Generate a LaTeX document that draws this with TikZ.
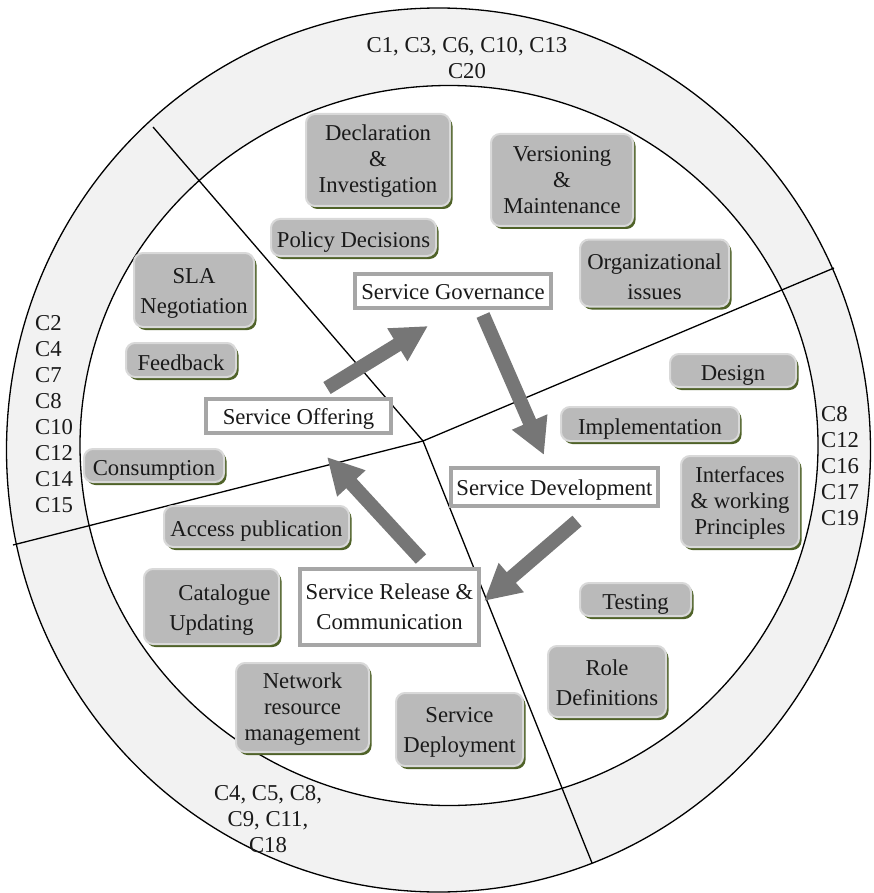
\documentclass[tikz,border=0pt]{standalone}
\usepackage{fontspec}
\setmainfont{Liberation Serif}
\usetikzlibrary{arrows.meta}

\definecolor{ringfill}{HTML}{F2F2F2}
\definecolor{boxfill}{HTML}{BABABA}
\definecolor{boxrim}{HTML}{D9D9D9}
\definecolor{boxshade}{HTML}{4F6228}
\definecolor{stageframe}{HTML}{A6A6A6}
\definecolor{flow}{HTML}{767676}
\definecolor{ink}{HTML}{1A1A1A}

% invisible strut that lowers a block of centred lines inside its box
\newcommand{\sinkby}[1]{\rule{0pt}{\dimexpr 15.5pt+2\dimexpr #1\relax\relax}}

\begin{document}
\begin{tikzpicture}[x=1pt,y=-1pt,
  every node/.style={font=\fontsize{22.7}{26}\selectfont, text=ink, inner sep=0pt, align=center},
  divider/.style={line width=1.3pt, draw=black},
  topic/.style={draw=boxrim, line width=2pt, fill=boxfill, rounded corners=9pt,
    preaction={fill=boxshade, transform canvas={xshift=2.5pt, yshift=-3pt}}},
  oneline/.style={text height=20pt, text depth=0pt},
  stage/.style={draw=stageframe, line width=4pt, fill=white},
  stageline/.style={text height=16pt, text depth=0pt},
  flowarrow/.style={draw=flow, line width=14pt, -{Triangle[length=36pt, width=36pt]}},
  codes/.style={align=left}
]
\useasboundingbox (0,0) rectangle (874,893);

% outer ring
\fill[ringfill, even odd rule]
  (438.5,450) ellipse [x radius=432pt, y radius=442pt]
  (449,445.5) ellipse [x radius=369pt, y radius=360pt];
\draw[divider] (438.5,450) ellipse [x radius=432pt, y radius=442pt];
\draw[divider] (449,445.5) ellipse [x radius=369pt, y radius=360pt];

% sector dividers
\coordinate (hub) at (423,441);
\coordinate (nw) at (153,127);
\coordinate (ne) at (834,268);
\coordinate (sw) at (13,545);
\coordinate (se) at (592,863);
\draw[divider] (hub) -- (nw);
\draw[divider] (hub) -- (ne);
\draw[divider] (hub) -- (sw);
\draw[divider] (hub) -- (se);

% criteria in the ring
\node (ctop) at (467,58.5) {C1, C3, C6, C10, C13\\C20};
\node[codes, anchor=north west] (cleft) at (35,315) {C2\\C4\\C7\\C8\\C10\\C12\\C14\\C15};
\node[codes, anchor=north west] (cright) at (821,406) {C8\\C12\\C16\\C17\\C19};
\node (cbottom) at (268,819.5) {C4, C5, C8,\\C9, C11,\\C18};

% activities
\node[topic, minimum width=144pt, minimum height=92pt] (decl) at (378,160) {\sinkby{1pt}Declaration\\\&\\Investigation};
\node[topic, minimum width=142pt, minimum height=92pt] (vers) at (562,180) {Versioning\\\&\\Maintenance};
\node[topic, minimum width=149pt, minimum height=67pt] (org) at (654.5,273) {\sinkby{3.5pt}Organizational\\[4pt]issues};
\node[topic, oneline, minimum width=165pt, minimum height=37pt] (policy) at (353.5,237.5) {Policy Decisions};
\node[topic, minimum width=120pt, minimum height=74pt] (sla) at (194,290) {\sinkby{3.5pt}SLA\\[4pt]Negotiation};
\node[topic, oneline, minimum width=110pt, minimum height=34pt] (feedback) at (181,360) {Feedback};
\node[topic, oneline, minimum width=140pt, minimum height=33pt] (consumption) at (154,465.5) {Consumption};
\node[topic, oneline, minimum width=185pt, minimum height=41pt] (access) at (256.5,526.5) {Access publication};
\node[topic, minimum width=135pt, minimum height=75pt] (catalogue) at (211.5,606.5) {\sinkby{3.5pt}\hspace*{26pt}Catalogue\\[4pt]Updating};
\node[topic, minimum width=133pt, minimum height=89pt] (network) at (302.5,707.5) {\sinkby{2pt}Network\\resource\\management};
\node[topic, minimum width=127pt, minimum height=73pt] (deploy) at (459.5,729.5) {\sinkby{3pt}Service\\[4pt]Deployment};
\node[topic, minimum width=118pt, minimum height=71pt] (role) at (607,681.5) {\sinkby{1pt}Role\\[4pt]Definitions};
\node[topic, oneline, minimum width=111pt, minimum height=33pt] (testing) at (635.5,599.5) {Testing};
\node[topic, oneline, minimum width=126pt, minimum height=33pt] (design) at (733,370.5) {Design};
\node[topic, oneline, minimum width=178pt, minimum height=34pt] (impl) at (650,424) {Implementation};
\node[topic, minimum width=118pt, minimum height=91pt] (iface) at (740,501.5) {\sinkby{2pt}Interfaces\\\& working\\Principles};

% lifecycle stages
\node[stage, stageline, minimum width=196pt, minimum height=34pt] (gov) at (453,291) {Service Governance};
\node[stage, stageline, minimum width=185pt, minimum height=34pt] (off) at (298.5,416) {Service Offering};
\node[stage, stageline, minimum width=207pt, minimum height=38pt] (dev) at (554.5,487) {Service Development};
\node[stage, minimum width=179pt, minimum height=76pt] (rel) at (389.5,607) {Service Release \&\\[4pt]Communication};

% lifecycle flow
\coordinate (a1s) at (327,388); \coordinate (a1e) at (428,326);
\coordinate (a2s) at (483,315); \coordinate (a2e) at (544,455);
\coordinate (a3s) at (577,521); \coordinate (a3e) at (484,601);
\coordinate (a4s) at (421,559); \coordinate (a4e) at (327,457);
\draw[flowarrow] (a1s) -- (a1e);
\draw[flowarrow] (a2s) -- (a2e);
\draw[flowarrow] (a3s) -- (a3e);
\draw[flowarrow] (a4s) -- (a4e);
\end{tikzpicture}
\end{document}
